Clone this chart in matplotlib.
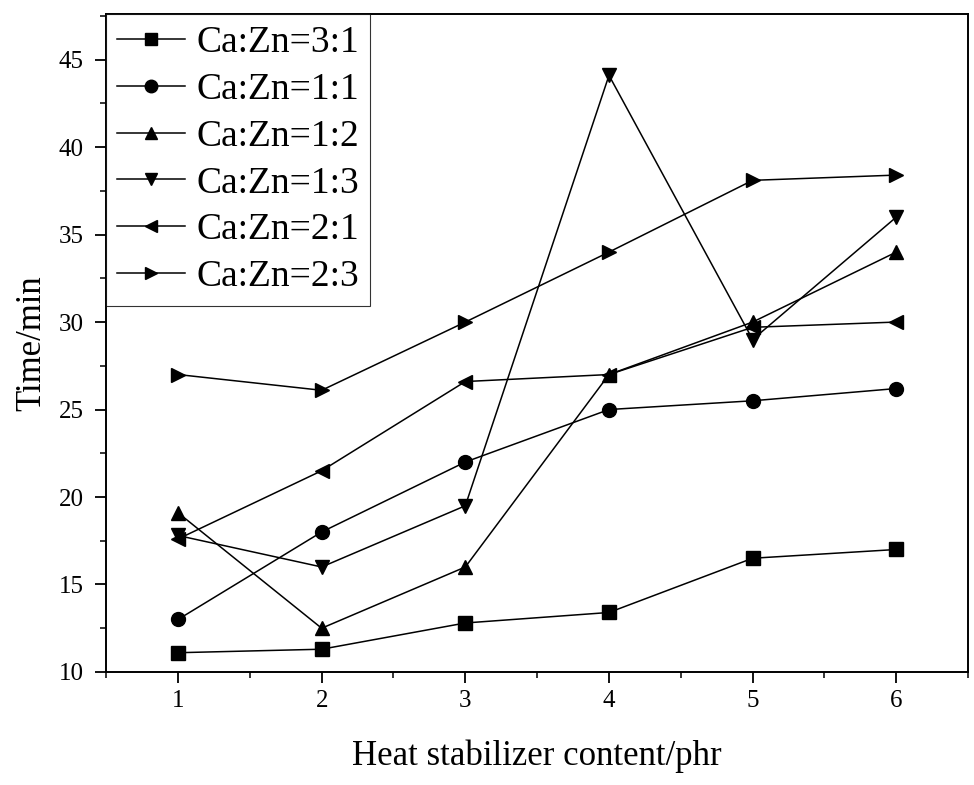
import matplotlib.pyplot as plt
from matplotlib.ticker import MultipleLocator

plt.rcParams['font.family'] = ['Liberation Serif', 'DejaVu Serif']

content = [1, 2, 3, 4, 5, 6]
labels = ['Ca:Zn=3:1', 'Ca:Zn=1:1', 'Ca:Zn=1:2', 'Ca:Zn=1:3', 'Ca:Zn=2:1', 'Ca:Zn=2:3']
markers = ['s', 'o', '^', 'v', '<', '>']

ca3zn1 = [11.1, 11.3, 12.8, 13.4, 16.5, 17.0]
ca1zn1 = [13.0, 18.0, 22.0, 25.0, 25.5, 26.2]
ca1zn2 = [19.1, 12.5, 16.0, 27.0, 30.0, 34.0]
ca1zn3 = [17.8, 16.0, 19.5, 44.1, 29.0, 36.0]
ca2zn1 = [17.6, 21.5, 26.6, 27.0, 29.7, 30.0]
ca2zn3 = [27.0, 26.1, 30.0, 34.0, 38.1, 38.4]
series = [ca3zn1, ca1zn1, ca1zn2, ca1zn3, ca2zn1, ca2zn3]

fig = plt.figure(figsize=(9.74, 7.85), dpi=100)
ax = fig.add_axes([0.109, 0.144, 0.885, 0.838])

for vals, lab, m in zip(series, labels, markers):
    ax.plot(content, vals, color='black', linewidth=1.1, marker=m,
            markersize=10, markerfacecolor='black', markeredgecolor='black', label=lab)

ax.set_xlim(0.5, 6.5)
ax.set_ylim(10, 47.6)
ax.xaxis.set_major_locator(MultipleLocator(1))
ax.xaxis.set_minor_locator(MultipleLocator(0.5))
ax.yaxis.set_major_locator(MultipleLocator(5))
ax.yaxis.set_minor_locator(MultipleLocator(2.5))
ax.tick_params(which='major', direction='out', length=8, width=1.3, labelsize=18)
ax.tick_params(which='minor', direction='out', length=4.5, width=1.1)
ax.tick_params(axis='x', which='major', pad=5)
ax.tick_params(axis='y', which='major', pad=8)
for s in ax.spines.values():
    s.set_linewidth(1.4)

ax.set_xlabel('Heat stabilizer content/phr', fontsize=25, labelpad=20)
ax.set_ylabel('Time/min', fontsize=25, labelpad=8)

leg = ax.legend(loc='upper left', fontsize=27, frameon=True, fancybox=False,
                edgecolor='black', borderaxespad=0.0, handlelength=1.8,
                handletextpad=0.3, labelspacing=0.33, borderpad=0.3,
                markerscale=0.9)
leg.get_frame().set_linewidth(0.8)

fig.savefig('out.png', dpi=100)
